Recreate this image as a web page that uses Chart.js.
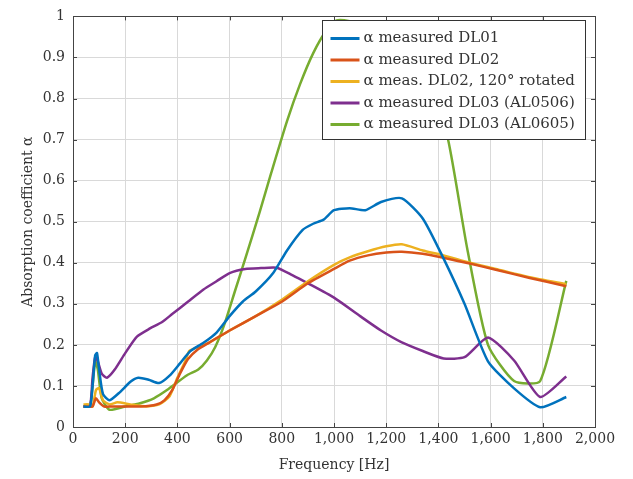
<!DOCTYPE html>
<html>
<head>
<meta charset="utf-8">
<script src="https://cdn.jsdelivr.net/npm/chart.js@4/dist/chart.umd.min.js"></script>
<style>
  html, body { margin: 0; padding: 0; background: #fff; }
  #wrap { width: 633px; height: 479px; }
</style>
</head>
<body>
<div id="wrap"><canvas id="chart" width="633" height="479"></canvas></div>
<script>
const xTicks = [0, 200, 400, 600, 800, 1000, 1200, 1400, 1600, 1800, 2000];
const yTicks = [0, 0.1, 0.2, 0.3, 0.4, 0.5, 0.6, 0.7, 0.8, 0.9, 1];

const labels = [
  'α measured DL01',
  'α measured DL02',
  'α meas. DL02, 120° rotated',
  'α measured DL03 (AL0506)',
  'α measured DL03 (AL0605)'
];
const colors = ['#0072BD', '#D95319', '#EDB120', '#7E2F8E', '#77AC30'];

const dl01Freq = [40, 65, 75, 85, 92, 100, 115, 140, 180, 220, 250, 290, 330, 370, 410, 450, 500, 550, 600, 650, 700, 767, 820, 880, 920, 960, 1000, 1060, 1120, 1180, 1260, 1340, 1420, 1500, 1590, 1690, 1790, 1890];
const dl01Alpha = [0.05, 0.05, 0.10, 0.175, 0.18, 0.14, 0.08, 0.065, 0.085, 0.11, 0.12, 0.115, 0.107, 0.125, 0.155, 0.185, 0.205, 0.23, 0.27, 0.305, 0.33, 0.375, 0.43, 0.48, 0.495, 0.505, 0.528, 0.533, 0.528, 0.548, 0.557, 0.508, 0.41, 0.30, 0.16, 0.094, 0.048, 0.073];

const dl02Freq = [40, 60, 75, 88, 100, 120, 150, 200, 260, 320, 350, 380, 410, 440, 480, 520, 600, 700, 800, 900, 1000, 1060, 1130, 1200, 1260, 1340, 1420, 1520, 1620, 1750, 1890];
const dl02Alpha = [0.05, 0.05, 0.05, 0.07, 0.06, 0.05, 0.05, 0.05, 0.05, 0.055, 0.065, 0.09, 0.13, 0.165, 0.19, 0.205, 0.235, 0.27, 0.305, 0.35, 0.385, 0.405, 0.418, 0.425, 0.427, 0.422, 0.412, 0.398, 0.383, 0.363, 0.343];

const dl02rotFreq = [40, 60, 75, 88, 100, 115, 140, 170, 220, 280, 330, 370, 400, 430, 445, 480, 520, 600, 700, 800, 900, 1000, 1060, 1130, 1200, 1260, 1340, 1420, 1520, 1620, 1750, 1890];
const dl02rotAlpha = [0.055, 0.055, 0.05, 0.09, 0.095, 0.065, 0.055, 0.06, 0.055, 0.05, 0.055, 0.075, 0.12, 0.16, 0.185, 0.195, 0.205, 0.235, 0.27, 0.31, 0.355, 0.395, 0.413, 0.428, 0.44, 0.445, 0.43, 0.418, 0.40, 0.385, 0.365, 0.348];

const al0506Freq = [40, 65, 75, 85, 95, 110, 130, 160, 200, 245, 295, 340, 380, 440, 500, 550, 600, 660, 720, 780, 840, 900, 1000, 1100, 1180, 1260, 1340, 1420, 1500, 1590, 1690, 1790, 1890];
const al0506Alpha = [0.05, 0.05, 0.12, 0.17, 0.16, 0.13, 0.12, 0.14, 0.18, 0.22, 0.24, 0.255, 0.275, 0.305, 0.335, 0.355, 0.375, 0.385, 0.387, 0.388, 0.37, 0.35, 0.315, 0.27, 0.235, 0.206, 0.185, 0.167, 0.17, 0.218, 0.162, 0.073, 0.123];

const al0605Freq = [40, 65, 75, 85, 95, 110, 140, 200, 257, 310, 360, 437, 480, 513, 545, 580, 620, 660, 716, 760, 820, 870, 920, 970, 1010, 1060, 1120, 1200, 1300, 1380, 1437, 1510, 1590, 1690, 1790, 1890];
const al0605Alpha = [0.05, 0.05, 0.10, 0.16, 0.14, 0.07, 0.042, 0.05, 0.058, 0.07, 0.09, 0.126, 0.14, 0.162, 0.195, 0.25, 0.33, 0.41, 0.525, 0.62, 0.745, 0.835, 0.91, 0.965, 0.99, 0.988, 0.975, 0.94, 0.87, 0.8, 0.70, 0.436, 0.20, 0.112, 0.112, 0.356];

const series = [
  [dl01Freq, dl01Alpha],
  [dl02Freq, dl02Alpha],
  [dl02rotFreq, dl02rotAlpha],
  [al0506Freq, al0506Alpha],
  [al0605Freq, al0605Alpha]
];

const serif = "'DejaVu Serif', 'Liberation Serif', serif";
const textColor = '#333';

// frame, inner ticks and the legend box inside the plot
const framePlugin = {
  id: 'frame',
  afterDraw(chart) {
    const { ctx, chartArea: a, scales } = chart;
    ctx.save();
    ctx.strokeStyle = '#444';
    ctx.lineWidth = 1;
    ctx.beginPath();
    xTicks.forEach(v => {
      const px = Math.round(scales.x.getPixelForValue(v)) + 0.5;
      ctx.moveTo(px, a.bottom); ctx.lineTo(px, a.bottom - 4);
      ctx.moveTo(px, a.top); ctx.lineTo(px, a.top + 4);
    });
    yTicks.forEach(v => {
      const py = Math.round(scales.y.getPixelForValue(v)) + 0.5;
      ctx.moveTo(a.left, py); ctx.lineTo(a.left + 4, py);
      ctx.moveTo(a.right, py); ctx.lineTo(a.right - 4, py);
    });
    ctx.stroke();
    ctx.strokeRect(Math.round(a.left) + 0.5, Math.round(a.top) + 0.5, Math.round(a.right - a.left), Math.round(a.bottom - a.top));

    const boxW = 263, boxH = 119;
    const bx = Math.round(a.right - 10 - boxW) + 0.5;
    const by = Math.round(a.top + 4) + 0.5;
    ctx.fillStyle = '#fff';
    ctx.fillRect(bx, by, boxW, boxH);
    ctx.strokeStyle = '#333';
    ctx.strokeRect(bx, by, boxW, boxH);

    ctx.font = '15px ' + serif;
    ctx.textBaseline = 'middle';
    ctx.textAlign = 'left';
    chart.data.datasets.forEach((ds, i) => {
      const ly = by + 18 + i * 21.5;
      ctx.strokeStyle = ds.borderColor;
      ctx.lineWidth = 3;
      ctx.beginPath();
      ctx.moveTo(bx + 8, ly); ctx.lineTo(bx + 37, ly);
      ctx.stroke();
      ctx.fillStyle = textColor;
      ctx.fillText(ds.label, bx + 41, ly);
    });
    ctx.restore();
  }
};

new Chart(document.getElementById('chart'), {
  type: 'line',
  data: {
    datasets: series.map(([f, a], i) => ({
      label: labels[i],
      data: f.map((x, j) => ({ x, y: a[j] })),
      borderColor: colors[i],
      backgroundColor: colors[i],
      borderWidth: 2.5,
      pointRadius: 0,
      tension: 0.2,
      fill: false
    }))
  },
  options: {
    responsive: false,
    animation: false,
    layout: { padding: { left: 0, right: 38, top: 14, bottom: 0 } },
    plugins: {
      legend: { display: false },
      tooltip: { enabled: false }
    },
    scales: {
      x: {
        type: 'linear',
        min: 0,
        max: 2000,
        afterBuildTicks: s => { s.ticks = xTicks.map(value => ({ value })); },
        afterFit: s => { s.height = 52; },
        grid: { color: '#d9d9d9', drawTicks: false },
        border: { display: false },
        ticks: { padding: 4, color: textColor, font: { family: serif, size: 14 }, maxRotation: 0, callback: v => v.toLocaleString('en-US') },
        title: { display: true, text: 'Frequency [Hz]', color: textColor, font: { family: serif, size: 14 }, padding: { top: 0, bottom: 5 } }
      },
      y: {
        type: 'linear',
        min: 0,
        max: 1,
        afterBuildTicks: s => { s.ticks = yTicks.map(value => ({ value })); },
        afterFit: s => { s.width = 73; },
        grid: { color: '#d9d9d9', drawTicks: false },
        border: { display: false },
        ticks: { padding: 8, color: textColor, font: { family: serif, size: 14 }, callback: v => String(Number(v.toFixed(1))) },
        title: { display: true, text: 'Absorption coefficient α', color: textColor, font: { family: serif, size: 14 }, padding: { top: 20, bottom: 0 } }
      }
    }
  },
  plugins: [framePlugin]
});
</script>
</body>
</html>
